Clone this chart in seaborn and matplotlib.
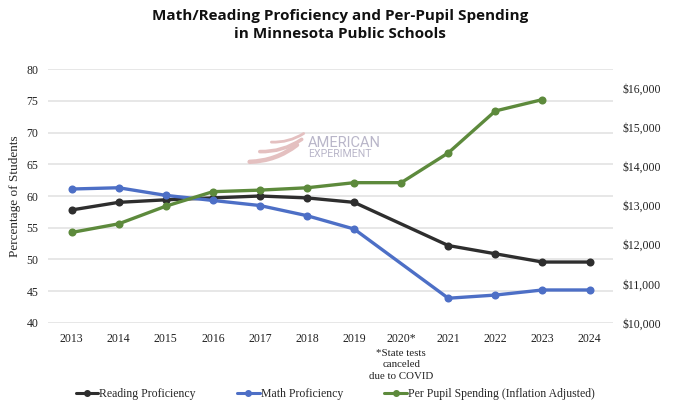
import numpy as np
import pandas as pd
import matplotlib
matplotlib.use("Agg")
import matplotlib.pyplot as plt
from matplotlib.ticker import FuncFormatter
from matplotlib.lines import Line2D
from matplotlib.patches import FancyArrowPatch
import seaborn as sns

years = ["2013", "2014", "2015", "2016", "2017", "2018", "2019",
         "2020*", "2021", "2022", "2023", "2024"]
reading = [57.8, 59.0, 59.4, 59.7, 60.0, 59.7, 59.0,
           np.nan, 52.2, 50.9, 49.6, 49.6]
math_prof = [61.1, 61.3, 60.1, 59.3, 58.5, 56.9, 54.8,
             np.nan, 43.9, 44.4, 45.2, 45.2]
spending = [12310, 12530, 12980, 13350, 13390, 13450, 13580,
            13580, 14340, 15410, 15700, np.nan]

series_names = ["Reading Proficiency", "Math Proficiency",
                "Per Pupil Spending (Inflation Adjusted)"]
colors = ["#2e2e2e", "#4d6fc6", "#5d8a3c"]

sns.set_style("white")
plt.rcParams["font.family"] = ["Liberation Serif", "DejaVu Serif"]

df = pd.DataFrame({"pos": np.arange(len(years)), "year": years,
                   "reading": reading, "math": math_prof,
                   "spending": spending})

fig = plt.figure(figsize=(6.8, 4.15), dpi=100)
ax = fig.add_axes([0.0706, 0.2217, 0.831, 0.612])
ax2 = ax.twinx()

sns.lineplot(data=df, x="pos", y="reading", ax=ax, color=colors[0],
             marker="o", markersize=5.8, markeredgewidth=0, linewidth=2.4)
sns.lineplot(data=df, x="pos", y="math", ax=ax, color=colors[1],
             marker="o", markersize=5.8, markeredgewidth=0, linewidth=2.4)
sns.lineplot(data=df, x="pos", y="spending", ax=ax2, color=colors[2],
             marker="o", markersize=5.8, markeredgewidth=0, linewidth=2.4)

ax.set_xlim(-0.5, len(years) - 0.5)
ax.set_ylim(40, 80)
ax.set_yticks(range(40, 81, 5))
ax2.set_ylim(10000, 16480)
ax2.set_yticks(range(10000, 16001, 1000))
ax2.yaxis.set_major_formatter(FuncFormatter(lambda v, p: "${:,.0f}".format(v)))

ax.set_xticks(df["pos"])
ax.set_xticklabels(years)
ax.grid(axis="y", color="#e3e3e3", linewidth=1.2)
ax.set_axisbelow(True)
for a in (ax, ax2):
    for s in a.spines.values():
        s.set_visible(False)
    a.tick_params(length=0, labelsize=8.5, colors="#222222")
    a.set_xlabel("")
ax.tick_params(axis="x", pad=7)
ax.tick_params(axis="y", pad=7)
ax2.tick_params(axis="y", pad=7)
ax2.set_ylabel("")
ax.set_ylabel("Percentage of Students", fontsize=9.5, labelpad=4)

fig.text(0.5, 0.978, "Math/Reading Proficiency and Per-Pupil Spending\nin Minnesota Public Schools",
         ha="center", va="top", fontsize=11, fontweight="bold",
         family=["Open Sans", "DejaVu Sans"], linespacing=1.35, color="#111111")

# footnote under 2020*
ax.annotate("*State tests\ncanceled\ndue to COVID", xy=(7, 0), xycoords=("data", "axes fraction"),
            xytext=(0, -19), textcoords="offset points", ha="center", va="top",
            fontsize=7.8, linespacing=1.3, color="#222222")

# watermark
fig.text(0.453, 0.655, "AMERICAN", fontsize=10.5, color="#b9b6c9",
         family=["Roboto", "DejaVu Sans"], ha="left", va="center")
fig.text(0.453, 0.628, "EXPERIMENT", fontsize=7.6, color="#b9b6c9",
         family=["Roboto", "DejaVu Sans"], ha="left", va="center")
for (x0, y0, x1, y1, lw) in [(0.363, 0.61, 0.44, 0.655, 3.2),
                             (0.378, 0.635, 0.447, 0.668, 2.6),
                             (0.395, 0.658, 0.45, 0.682, 2.0)]:
    fig.patches.append(FancyArrowPatch((x0, y0), (x1, y1), transform=fig.transFigure,
                                       connectionstyle="arc3,rad=0.18", arrowstyle="-",
                                       color="#e4c0c0", linewidth=lw))

handles = [Line2D([0], [0], color=c, marker="o", markersize=4, linewidth=2.2)
           for c in colors]
fig.legend(handles, series_names, loc="center", bbox_to_anchor=(0.493, 0.05),
           ncol=3, frameon=False, fontsize=8.5, handlelength=1.9,
           handletextpad=0.1, columnspacing=3.5)

fig.savefig("out.png", dpi=100)
